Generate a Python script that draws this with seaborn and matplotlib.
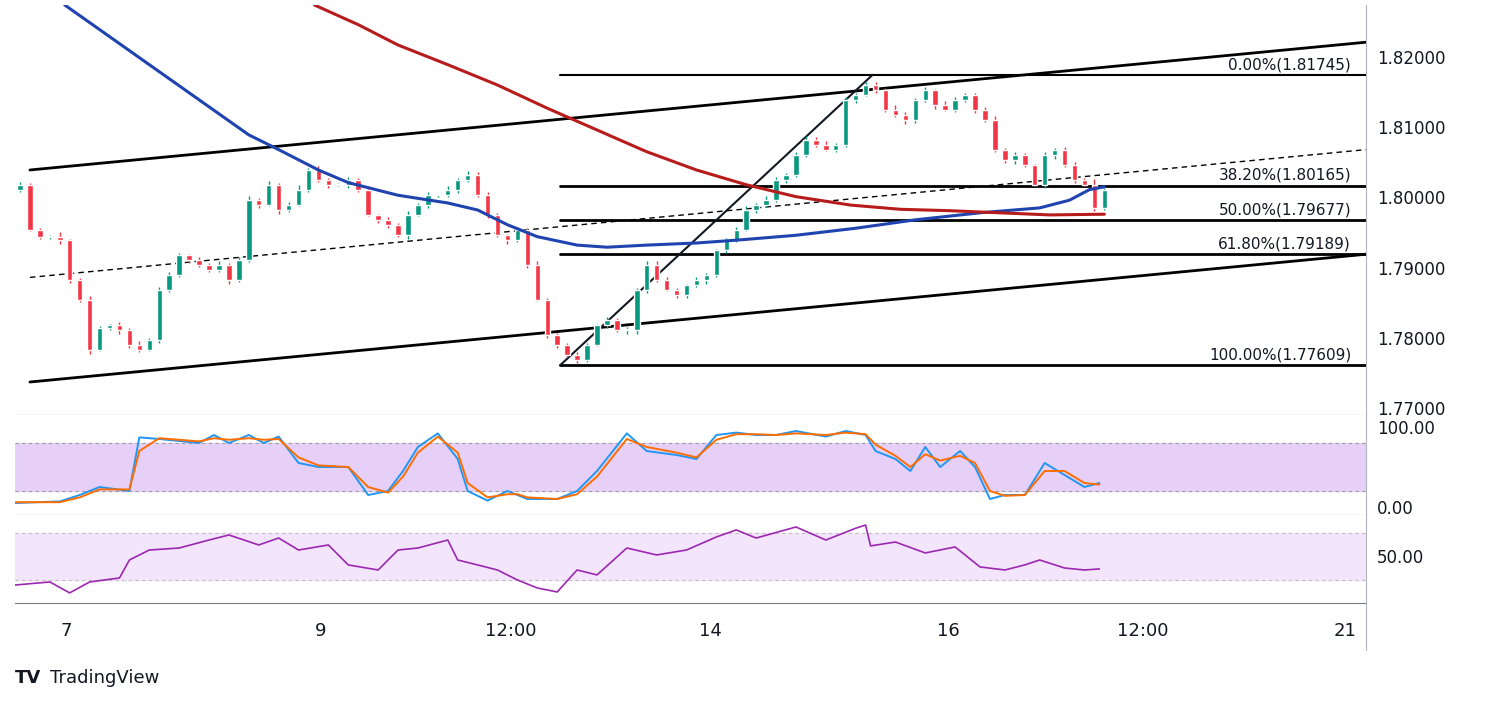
import matplotlib
matplotlib.use("Agg")
import matplotlib.pyplot as plt
import seaborn as sns
import numpy as np
import pandas as pd

closes = [1.8018,1.7954,1.7944,1.7944,1.7939,1.7882,1.7854,1.7783,1.7814,1.7818,1.7811,1.7790,1.7783,1.7797,1.7868,1.7889,1.7918,1.7911,1.7904,1.7897,
1.7904,1.7882,1.7911,1.7996,1.7989,1.8018,1.7982,1.7989,1.8011,1.8039,1.8025,1.8018,1.8018,1.8025,1.8011,1.7975,1.7968,1.7961,
1.7946,1.7975,1.7989,1.8003,1.8003,1.8011,1.8025,1.8032,1.8003,1.7975,1.7946,1.7939,1.7954,1.7904,1.7854,1.7804,1.7790,1.7776,1.7768,1.7790,
1.7818,1.7825,1.7811,1.7811,1.7868,1.7904,1.7882,1.7868,1.7861,1.7875,1.7882,1.7889,1.7925,1.7939,1.7954,1.7982,1.7989,1.7996,1.8025,
1.8032,1.8060,1.8082,1.8075,1.8068,1.8075,1.8139,1.8146,1.8160,1.8153,1.8125,1.8117,1.8110,1.8139,1.8153,1.8132,1.8125,1.8139,1.8146,1.8125,
1.8110,1.8068,1.8053,1.8060,1.8046,1.8018,1.8060,1.8068,1.8046,1.8025,1.8018,1.7985,1.8011]
first_open = 1.8010
wick_hi = [4,3,2,3,6,2,3,5,3,2,4,3,6,3,4,5,3,2,4,3,5,2,4,6,3,5,3,4,6,3,5,2,3,4,3,5,2,4,3,6,
3,4,2,5,3,6,4,5,3,2,4,3,6,2,3,2,4,3,2,5,3,4,3,6,5,4,3,2,4,3,2,3,4,5,3,6,4,3,5,6,
4,5,3,4,2,5,4,3,6,5,3,4,2,5,4,3,2,4,6,3,4,3,2,5,3,4,5,3,8,3]
wick_lo = [3,2,4,3,5,4,3,6,2,3,5,4,3,2,4,3,2,5,3,4,3,6,2,3,4,2,5,3,2,4,3,5,2,4,3,2,4,5,3,6,
2,4,3,2,5,3,2,4,3,5,3,4,2,5,4,3,4,3,2,4,3,5,6,4,3,2,5,4,3,6,2,4,3,2,4,3,2,5,3,2,
3,2,4,3,5,2,4,3,2,5,4,3,6,2,4,3,5,2,3,4,5,3,2,4,6,3,4,2,5,3]

ma_blue_t = [4.5,13,18,23,26,30,33,38,43,46,49,52,56,59,63,68,72,78,84,90,96.5,102.5,105.5,107.5,109]
ma_blue = [1.8274,1.8189,1.8139,1.8089,1.8068,1.8039,1.8021,1.8003,1.7992,1.7982,1.7961,1.7944,1.7932,1.7929,1.7932,1.7935,1.7939,1.7946,1.7956,1.7968,1.7978,1.7985,1.7996,1.8011,1.8015]
ma_red_t = [29.6,34,38,43,48,53,58,63,68,73,78,83.5,88.5,93.5,98.5,103.5,109]
ma_red = [1.8274,1.8246,1.8217,1.8189,1.8160,1.8127,1.8096,1.8065,1.8039,1.8018,1.8001,1.7989,1.7983,1.7981,1.7978,1.7975,1.7976]

fib_levels = [1.81745,1.80165,1.79677,1.79189,1.77609]
fib_labels = ["0.00%(1.81745)","38.20%(1.80165)","50.00%(1.79677)","61.80%(1.79189)","100.00%(1.77609)"]

stoch_t = [-0.5,4,6,8,11,12,14,18,19.5,21,23,24.5,26,28,30,33,35,37,38.5,40,42,44,45,47,49,50,51,54,56,58,61,63,66,68,70,72,74,76,78,81,83,85,86,88,89.5,91,92.5,94.5,96,97.5,99,101,103,105,107,108.5]
stoch_k = [5,7,15,25,20,87,85,80,90,80,90,80,88,55,50,50,15,20,45,75,92,60,20,8,20,15,10,10,20,45,92,70,65,60,90,93,90,90,95,88,95,90,70,60,45,75,50,70,50,10,15,15,55,40,25,30]
stoch_d = [6,6,12,22,22,70,86,82,86,84,86,84,85,62,52,50,25,18,38,68,88,68,30,12,16,16,12,10,16,38,85,75,68,62,84,91,91,90,92,90,93,91,78,64,50,66,58,64,55,20,14,15,45,45,30,28]

rsi_t = [-0.5,3,5,7,10,11,13,16,19,21,24,26,28,31,33,36,38,40,43,44,46,48,50,52,54,56,58,61,64,67,70,72,74,78,81,84,85,85.5,88,91,94,96.5,99,101,102.5,105,107,108.5]
rsi_v = [25.7,28.3,19,28.3,31.7,47,55.5,57.2,64,68.3,59.8,65.7,55.5,59.8,42.8,38.5,55.5,57.2,64,47,42.8,38.5,30,23.2,19.8,38.5,34.3,57.2,51.3,55.5,66.6,72.6,65.7,75.1,64,74,76.8,59,62.3,53,58.1,41.1,38.5,42.8,47,40.2,38.5,39.4]

tick_pos = [4.7,30.2,49.3,69.4,93.3,112.9,133.2]
tick_lab = ["7","9","12:00","14","16","12:00","21"]

sns.set_style("white")
plt.rcParams['font.family'] = ['DejaVu Sans']
fig = plt.figure(figsize=(14.89,7.04), dpi=100)
L, W = 15/1489, (1366-15)/1489
def fy(y0,y1): return 1-y1/704, (y1-y0)/704
b,h = fy(5,415); ax = fig.add_axes([L,b,W,h])
b,h = fy(415,515); ax2 = fig.add_axes([L,b,W,h], sharex=ax)
b,h = fy(515,603); ax3 = fig.add_axes([L,b,W,h], sharex=ax)
XMIN, XMAX = -0.5, 135.3
GREEN, RED = "#089981", "#f23645"
grey = "#b2b5be"

n = len(closes)
t = np.arange(n)
opens = [first_open] + closes[:-1]
df = pd.DataFrame({"t":t,"o":opens,"c":closes})
df["hi"] = df[["o","c"]].max(axis=1) + np.array(wick_hi)*1e-4
df["lo"] = df[["o","c"]].min(axis=1) - np.array(wick_lo)*1e-4
col = np.where(df.c >= df.o, GREEN, RED)
ax.vlines(df.t, df.lo, df.hi, colors=col, lw=1, zorder=3)
body = (df.c-df.o).abs().clip(lower=0.00012)
ax.bar(df.t, body, bottom=df[["o","c"]].min(axis=1), width=0.55, color=col, zorder=4)

sns.lineplot(x=ma_blue_t, y=ma_blue, ax=ax, color="#1f44b0", lw=2.2, zorder=5)
sns.lineplot(x=ma_red_t, y=ma_red, ax=ax, color="#b71c1c", lw=2.2, zorder=5)

ax.plot([1,XMAX],[1.8039,1.8221], color="black", lw=2)
ax.plot([1,XMAX],[1.7737,1.7919], color="black", lw=2)
ax.plot([1,XMAX],[1.7886,1.8068], color="black", lw=1, ls=(0,(4,3)))
fx0 = 54.3
for lv, lb in zip(fib_levels, fib_labels):
    ax.plot([fx0,XMAX],[lv,lv], color="black", lw=2 if lv != 1.81745 else 1.5)
    ax.text(133.8, lv+0.0004, lb, ha="right", va="bottom", fontsize=11, color="#131722")
ax.plot([fx0, 85.7],[1.77609,1.81745], color="#131722", lw=1.5)

ax.set_xlim(XMIN, XMAX)
ax.set_ylim(1.7690, 1.8274)
ax.yaxis.tick_right()
ax.set_yticks([1.82,1.81,1.80,1.79,1.78,1.77])
ax.set_yticklabels([f"{v:.5f}" for v in [1.82,1.81,1.80,1.79,1.78,1.77]], fontsize=12, color="#131722")
ax.tick_params(axis="y", length=0, pad=8)
ax.tick_params(axis="x", length=0, labelbottom=False)

ax2.axhspan(20,80, color="#e6d0f7", zorder=0)
ax2.axhline(80, color="#9e9e9e", lw=0.8, ls=(0,(3,3)))
ax2.axhline(20, color="#9e9e9e", lw=0.8, ls=(0,(3,3)))
sns.lineplot(x=stoch_t, y=stoch_k, ax=ax2, color="#2196f3", lw=1.4)
sns.lineplot(x=stoch_t, y=stoch_d, ax=ax2, color="#ff6d00", lw=1.4)
ax2.set_ylim(-10,115)
ax2.yaxis.tick_right(); ax2.set_yticks([100,0]); ax2.set_yticklabels(["100.00","0.00"], fontsize=12, color="#131722")
ax2.tick_params(axis="y", length=0, pad=8); ax2.tick_params(axis="x", length=0, labelbottom=False)

ax3.axhspan(30,70, color="#f3e5fb", zorder=0)
ax3.axhline(70, color="#c0c0c0", lw=0.8, ls=(0,(3,3)))
ax3.axhline(30, color="#c0c0c0", lw=0.8, ls=(0,(3,3)))
sns.lineplot(x=rsi_t, y=rsi_v, ax=ax3, color="#9c27b0", lw=1.2)
ax3.set_ylim(10.4,85.3)
ax3.yaxis.tick_right(); ax3.set_yticks([50]); ax3.set_yticklabels(["50.00"], fontsize=12, color="#131722")
ax3.tick_params(axis="y", length=0, pad=8)
ax3.set_xticks(tick_pos); ax3.set_xticklabels(tick_lab, fontsize=13, color="#131722")
ax3.tick_params(axis="x", length=0, pad=14)

for a in (ax,ax2,ax3):
    for s in ("top","left"): a.spines[s].set_visible(False)
    a.spines["right"].set_color(grey); a.spines["bottom"].set_color("#787b86")
    a.set_ylabel(""); a.set_xlabel("")
    if a.get_legend(): a.get_legend().remove()
fig.add_artist(plt.Line2D([1366/1489]*2,[1-650/704,1-603/704], color=grey, lw=0.8))
fig.text(15/1489, 1-678/704, "TV", fontsize=13, fontweight="bold", va="center", color="#131722")
fig.text(50/1489, 1-678/704, "TradingView", fontsize=13, va="center", color="#131722")
fig.savefig("out.png", dpi=100)
